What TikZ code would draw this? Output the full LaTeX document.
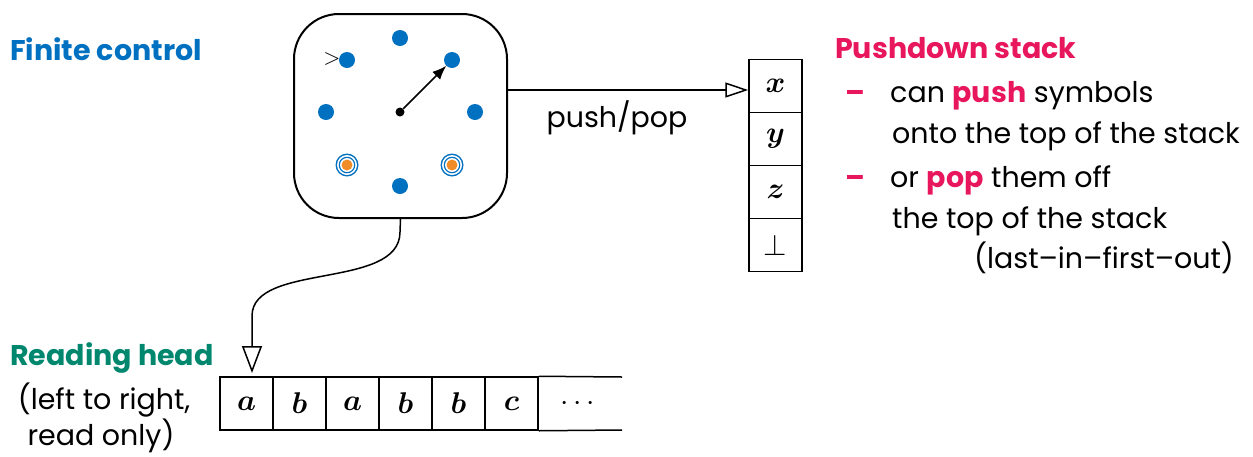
\RequirePackage{fix-cm}
\documentclass[tikz,border=0pt]{standalone}
\usepackage[no-math]{fontspec}
\setmainfont{Poppins}
\usepackage{amsmath,bm}
\usetikzlibrary{arrows.meta,calc}
\definecolor{fcblue}{RGB}{0,112,192}
\definecolor{rhgreen}{RGB}{0,135,110}
\definecolor{pdred}{RGB}{232,22,92}
\definecolor{accorange}{RGB}{240,140,40}
\tikzset{
  body/.style={font=\fontsize{28.5}{32}\selectfont, inner sep=0pt},
  title/.style={font=\fontsize{28.5}{32}\selectfont\bfseries, inner sep=0pt},
  cell/.style={draw, line width=1.5pt, minimum width=53pt, minimum height=53pt,
               inner sep=0pt},
  state/.style={circle, fill=fcblue, minimum size=16pt, inner sep=0pt},
  hub/.style={circle, fill=black, minimum size=9pt, inner sep=0pt},
  headtip/.style={-{Triangle[open, length=27pt, width=20pt, line width=1.5pt]}},
}
\newcommand{\acc}[1]{\textcolor{pdred}{\bfseries #1}}
% tape and stack symbols: 10pt math enlarged to the cell size
\newcommand{\sym}[1]{\scalebox{3}{$#1$}}
\begin{document}
\begin{tikzpicture}[x=1pt, y=-1pt]
\useasboundingbox (0,0) rectangle (1253,456);

% finite control
\node[draw, line width=2pt, rounded corners=45pt, minimum width=213pt,
      minimum height=204pt, inner sep=0pt] (fc) at (400.5,116) {};
\node[hub] (c) at (400,112) {};
\node[state] (q0) at (347,60) {};
\node[state] (q1) at (400,38) {};
\node[state] (q2) at (452,60) {};
\node[state] (q3) at (326,112) {};
\node[state] (q4) at (475,112) {};
\node[state] (q7) at (400,186) {};
\foreach \n/\x in {q5/347, q6/452} {
  \node[circle, fill=fcblue, minimum size=23pt, inner sep=0pt] (\n) at (\x,165) {};
  \fill[white] (\n) circle (10pt);
  \fill[fcblue] (\n) circle (8.3pt);
  \fill[white] (\n) circle (7pt);
  \fill[accorange] (\n) circle (5.5pt);
}
\node[inner sep=0pt] (start) at (332,59) {\scalebox{2.2}{$>$}};
\draw[line width=1.5pt, -{Latex[length=14pt, width=11pt]}] (c) -- (q2);

% pushdown stack
\node[cell] (s1) at (775.5,86) {\sym{\bm{x}}};
\node[cell] (s2) at (775.5,139) {\sym{\bm{y}}};
\node[cell] (s3) at (775.5,192) {\sym{\bm{z}}};
\node[cell] (s4) at (775.5,245) {\sym{\bot}};
\coordinate (pp) at ([yshift=-4pt]s1.west);
\draw[line width=1.5pt, -{Triangle[open, length=23pt, width=15pt, line width=1.5pt]}]
  (fc.east |- pp) -- (pp);
\node[body, anchor=base] (ppl) at (617,127) {push/pop};

% input tape
\node[cell] (t1) at (246.5,403.5) {\sym{\bm{a}}};
\node[cell] (t2) at (299.5,403.5) {\sym{\bm{b}}};
\node[cell] (t3) at (352.5,403.5) {\sym{\bm{a}}};
\node[cell] (t4) at (405.5,403.5) {\sym{\bm{b}}};
\node[cell] (t5) at (458.5,403.5) {\sym{\bm{b}}};
\node[cell] (t6) at (511.5,403.5) {\sym{\bm{c}}};
\node[inner sep=0pt] (t7) at (580,403.5) {\sym{\cdots}};
\coordinate (te1) at (622,377);
\coordinate (te2) at (622,430);
\draw[line width=1.5pt] (t6.north east) -- (te1) (t6.south east) -- (te2);

% reading head
\coordinate (rh) at (252,373);
\draw[line width=1.5pt, headtip] (fc.south) -- (400,232)
  .. controls (400,290) and (252,262) .. (252,316) -- (rh);

% labels
\node[title, text=fcblue, anchor=base west] (lfc) at (10,60) {Finite control};
\node[title, text=rhgreen, anchor=base west] (lrh) at (10,365) {Reading head};
\node[body, anchor=base] (lrh1) at (104,409) {(left to right,};
\node[body, anchor=base] (lrh2) at (101,445) {read only)};
\node[title, text=pdred, anchor=base west] (lpd) at (835,58) {Pushdown stack};
\node[body, text=pdred, anchor=base west] (d1) at (845,102) {\bfseries –};
\node[body, anchor=base west] (l1) at (890,102) {can \acc{push} symbols};
\node[body, anchor=base west] (l2) at (892,143) {onto the top of the stack};
\node[body, text=pdred, anchor=base west] (d2) at (845,187) {\bfseries –};
\node[body, anchor=base west] (l3) at (890,187) {or \acc{pop} them off};
\node[body, anchor=base west] (l4) at (892,228) {the top of the stack};
\node[body, anchor=base west] (l5) at (974,268) {(last–in–first–out)};
\end{tikzpicture}
\end{document}
